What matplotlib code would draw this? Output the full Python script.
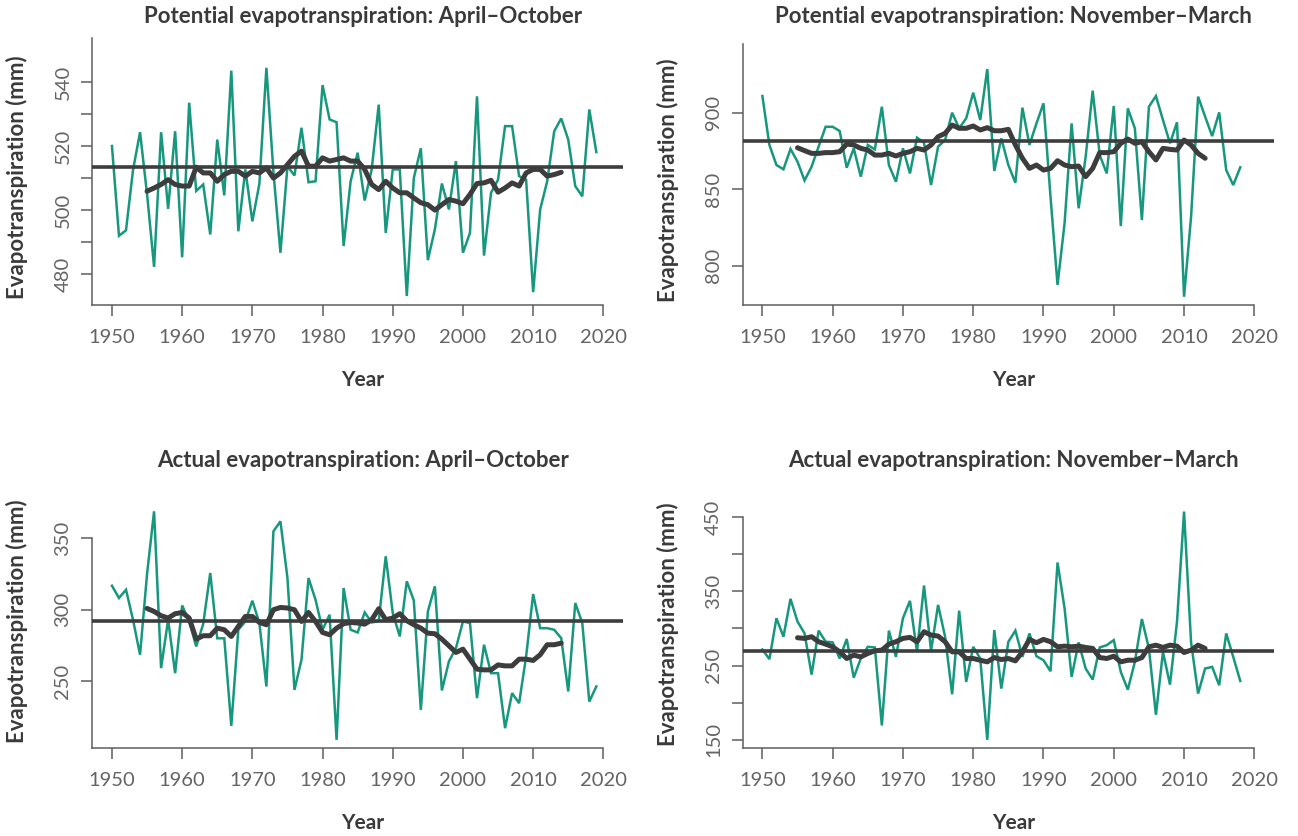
import matplotlib
matplotlib.use('Agg')
import matplotlib.pyplot as plt

# ---------------- data ----------------
years_long = list(range(1950, 2020))      # April-October series
years_short = list(range(1950, 2019))     # November-March series
smooth_years_long = list(range(1955, 2015))
smooth_years_short = list(range(1955, 2014))

pet_apr_oct = [520, 492, 493.7, 512.5, 524.3, 505, 482.3, 524.3, 500.4, 524.6,
               485.3, 533.5, 506, 508, 492.4, 522, 504.6, 543.5, 493.4, 512.7,
               496.5, 508.2, 544.4, 512, 486.7, 513.7, 510.8, 525.7, 508.7, 509,
               539, 528.3, 527.4, 488.8, 509, 517.9, 503, 512.7, 532.9, 492.9,
               512.7, 512.7, 473.2, 510, 519.3, 484.4, 494, 508.3, 500.2, 515.3,
               486.7, 492.9, 535.5, 485.8, 505.4, 509.5, 526.2, 526.2, 510.6, 509.5,
               474.4, 500.2, 509, 524.6, 528.6, 522, 507.5, 504.3, 531.4, 518.1]
pet_apr_oct_smooth = [505.9, 506.9, 508, 509.5, 508, 507.5, 507.5, 513.4, 511.6, 511.6,
                      509, 511.1, 512.1, 512.1, 510.6, 512.1, 511.6, 513.2, 510, 511.6,
                      514.2, 516.8, 518.4, 513.7, 513.7, 516.3, 515.3, 515.8, 516.3, 515.3,
                      515.3, 512.7, 508, 506.4, 509, 506.9, 505.4, 505.4, 503.8, 502.3,
                      501.7, 500, 501.7, 503.3, 502.8, 502, 504.9, 508.3, 508.5, 509.3,
                      505.6, 506.9, 508.5, 507.5, 511.6, 512.7, 512.7, 510.6, 511.1, 511.8]
pet_apr_oct_mean = 513.4

pet_nov_mar = [910.9, 878.9, 865.8, 863, 876.3, 868, 855.7, 864.7, 877.8, 890.8,
               890.8, 888, 864, 876.7, 858.2, 878.9, 876, 903.9, 865.8, 854.9,
               876.7, 860.3, 883.7, 880.4, 852.7, 877.8, 882.1, 900, 889.8, 896.3,
               913.1, 895.2, 928.5, 861.9, 883.2, 865.8, 854.2, 903.3, 878.9, 893,
               906.1, 845, 787.4, 827.7, 893, 837.5, 871.2, 914.4, 872.3, 860.3,
               904.4, 825.9, 902.8, 889.8, 829.8, 903.9, 910.9, 895.2, 880, 893.7,
               779.7, 832, 910.5, 897.4, 884.7, 900.2, 862.5, 852.7, 864.3]
pet_nov_mar_smooth = [877.1, 875.2, 873.4, 873.4, 873.9, 873.9, 874.5, 879.5, 878.9, 876.7,
                      875.6, 872.3, 872.3, 873.4, 871.7, 873.4, 874.5, 876.7, 875.6, 878.9,
                      884.3, 886.5, 891.9, 889.8, 889.8, 891.3, 888.7, 890.2, 888.2, 888.2,
                      889.1, 878.9, 870.2, 863.6, 865.8, 862.5, 863.6, 868.6, 865.8, 864.7,
                      865.1, 858.2, 863.6, 873.9, 873.9, 874.5, 880, 882.8, 880, 881,
                      874.5, 869.1, 876.7, 876, 875.6, 882.1, 878.9, 873.4, 870.2]
pet_nov_mar_mean = 881.7

aet_apr_oct = [316.8, 308.2, 314, 293, 268.5, 325, 368.9, 259.1, 293, 255.6,
               303, 291.8, 274.3, 290, 325.7, 280, 280, 218.7, 286, 291.8,
               306.3, 290.7, 246.3, 354.9, 361.9, 322.2, 243.9, 265, 322.2, 307,
               286, 296.5, 208.9, 315.2, 286, 284.1, 298.1, 291.1, 292, 337.4,
               297.7, 281.3, 319.9, 306.5, 229.9, 298.8, 316.4, 243.5, 263.8, 273.1,
               291.8, 290.7, 238.1, 275.5, 255.6, 255.6, 217.1, 241.6, 234.6, 267.3,
               311, 287.1, 287.1, 286, 280.1, 242.8, 304.7, 290.7, 235.7, 246.3]
aet_apr_oct_smooth = [300.9, 298.8, 295.8, 294.2, 297.2, 298.1, 294.2, 279.4, 281.8, 281.8,
                      287.1, 286, 281.3, 288.3, 295.3, 295.3, 291.1, 289.5, 300, 301.6,
                      301.2, 300, 291.8, 298.1, 291.8, 284.1, 282.5, 287.1, 290.2, 291.1,
                      290.7, 289.9, 293, 300.7, 293, 294.2, 297.2, 292.3, 289.5, 287.1,
                      283.6, 283.2, 279.4, 274.8, 270.1, 272.4, 265.4, 258.4, 257.9, 257.9,
                      261.4, 260.7, 260.7, 265.4, 265.4, 264.5, 268.5, 275.5, 275.5, 276.6]
aet_apr_oct_mean = 291.8

aet_nov_mar = [271.7, 258.6, 313.8, 288.9, 340, 309.3, 293.5, 237.8, 297.1, 282.2,
               281.3, 259.5, 285.8, 233.7, 259.5, 275.3, 274.4, 169.2, 297.1, 261.7,
               313.8, 337.3, 268.5, 357.9, 269.9, 331.8, 288.9, 211.3, 324, 227.9,
               275.3, 259.5, 149.8, 297.9, 218.9, 282.1, 297.1, 261.7, 293.3, 262.6,
               257.2, 242.3, 389, 327.2, 234.7, 281.2, 246, 231.1, 274.4, 277.5,
               284.3, 241.4, 217.5, 255, 312.8, 273.1, 183.6, 268.5, 224.3, 309.3,
               457.7, 281.2, 212.2, 246, 248.2, 223.4, 293.3, 261.7, 229.2]
aet_nov_mar_smooth = [287.5, 286.6, 288.9, 282.1, 278.9, 275.3, 268.5, 259.5, 264, 261.7,
                      266.3, 269.9, 270.8, 278.9, 282.1, 286.6, 288, 282.1, 295.6, 291.1,
                      289.8, 282.1, 268.5, 268.5, 259.5, 259.5, 257.2, 255, 260.8, 258.1,
                      259.5, 256.3, 268.5, 285.3, 280.8, 285.3, 282.1, 275.3, 276.2, 275.3,
                      276.2, 274.4, 273.1, 260.8, 259.5, 262.6, 255, 257.2, 257.2, 260.8,
                      275.3, 277.5, 274.4, 277.5, 276.2, 267.6, 270.8, 277.5, 273.1]
aet_nov_mar_mean = 269.9

titles = ["Potential evapotranspiration: April\u2013October",
          "Potential evapotranspiration: November\u2013March",
          "Actual evapotranspiration: April\u2013October",
          "Actual evapotranspiration: November\u2013March"]
x_ticks = [1950, 1960, 1970, 1980, 1990, 2000, 2010, 2020]
y_ticks_1 = [480, 490, 500, 510, 520, 530, 540]
y_labels_1 = ["480", "", "500", "", "520", "", "540"]
y_ticks_2 = [800, 850, 900]
y_labels_2 = ["800", "850", "900"]
y_ticks_3 = [250, 300, 350]
y_labels_3 = ["250", "300", "350"]
y_ticks_4 = [150, 200, 250, 300, 350, 400, 450]
y_labels_4 = ["150", "", "250", "", "350", "", "450"]
x_label = "Year"
y_label = "Evapotranspiration (mm)"

# ---------------- styling / layout ----------------
W, H = 1298, 836
TEAL = "#18977f"
DARK = "#3d3d3d"
AXC = "#5e5e5e"
TXT = "#3a3a3a"
TICKTXT = "#646464"
FONT = "Lato"

fig = plt.figure(figsize=(W / 100, H / 100), dpi=100)

panels = [
    dict(rect=(92.3, 38.3, 623.0, 305.0), ylim=(470.4, 553.6), ytop=None,
         x=years_long, y=pet_apr_oct, sx=smooth_years_long, sy=pet_apr_oct_smooth,
         mean=pet_apr_oct_mean, yt=y_ticks_1, yl=y_labels_1, title=titles[0]),
    dict(rect=(742.7, 44.3, 1274.0, 305.0), ylim=(774.3, 944.7), ytop=None,
         x=years_short, y=pet_nov_mar, sx=smooth_years_short, sy=pet_nov_mar_smooth,
         mean=pet_nov_mar_mean, yt=y_ticks_2, yl=y_labels_2, title=titles[1]),
    dict(rect=(92.3, 481.6, 623.0, 748.3), ylim=(203.0, 389.7), ytop=350,
         x=years_long, y=aet_apr_oct, sx=smooth_years_long, sy=aet_apr_oct_smooth,
         mean=aet_apr_oct_mean, yt=y_ticks_3, yl=y_labels_3, title=titles[2]),
    dict(rect=(742.7, 487.6, 1274.0, 748.3), ylim=(138.4, 490.0), ytop=450,
         x=years_short, y=aet_nov_mar, sx=smooth_years_short, sy=aet_nov_mar_smooth,
         mean=aet_nov_mar_mean, yt=y_ticks_4, yl=y_labels_4, title=titles[3]),
]

XLIM = (1947.2, 2022.8)

for i, p in enumerate(panels):
    l, t, r, b = p["rect"]
    ax = fig.add_axes([l / W, 1 - b / H, (r - l) / W, (b - t) / H])
    ax.plot(p["x"], p["y"], color=TEAL, lw=1.8, zorder=2, clip_on=False,
            solid_joinstyle="miter")
    ax.axhline(p["mean"], color=DARK, lw=2.6, zorder=3)
    ax.plot(p["sx"], p["sy"], color=DARK, lw=3.6, zorder=4,
            solid_capstyle="round", solid_joinstyle="round")
    ax.set_xlim(*XLIM)
    ax.set_ylim(*p["ylim"])
    for s in ("top", "right"):
        ax.spines[s].set_visible(False)
    for s in ("left", "bottom"):
        ax.spines[s].set_color(AXC)
        ax.spines[s].set_linewidth(1.1)
    ax.spines["bottom"].set_bounds(XLIM[0], 2020)
    ax.spines["left"].set_bounds(p["ylim"][0], p["ytop"] if p["ytop"] else p["ylim"][1])
    ax.set_xticks(x_ticks)
    ax.set_xticklabels([str(v) for v in x_ticks], fontfamily=FONT,
                       fontweight="normal", fontsize=14.5, color=TICKTXT)
    ax.set_yticks(p["yt"])
    ax.set_yticklabels(p["yl"], fontfamily=FONT, fontweight="normal",
                       fontsize=14.5, color=TICKTXT, rotation=90, va="center")
    ax.tick_params(axis="both", length=8, width=1.1, color=AXC)
    ax.tick_params(axis="x", pad=9)
    ax.tick_params(axis="y", pad=7)
    ax.patch.set_alpha(0)

    cx = (l + r) / 2 + 5
    fig.text(cx / W, 1 - (t - 21.5 if i in (0, 2) else t - 27.5) / H, p["title"],
             ha="center", va="center", fontfamily=FONT, fontweight="bold",
             fontsize=16, color=TXT)
    fig.text(cx / W, 1 - (b + 75) / H, x_label, ha="center", va="center",
             fontfamily=FONT, fontweight="bold", fontsize=15, color=TXT)
    fig.text((l - 75) / W, 1 - ((t + b) / 2 + 6) / H, y_label, ha="center",
             va="center", rotation=90, fontfamily=FONT, fontweight="bold",
             fontsize=16, color=TXT)

fig.savefig("out.png", dpi=100)
